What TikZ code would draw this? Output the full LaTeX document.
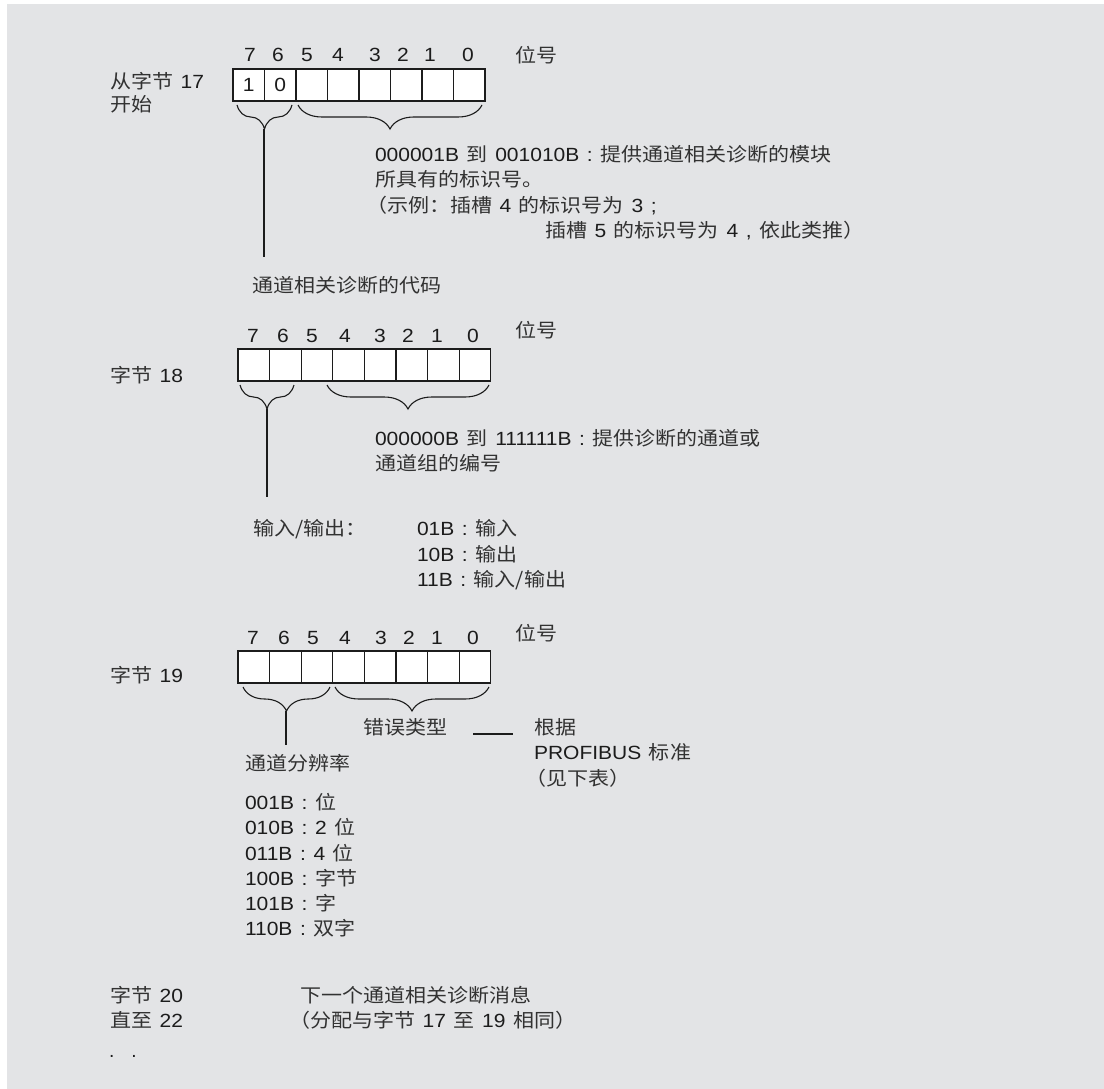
\documentclass[tikz,border=0pt]{standalone}
\usepackage{graphicx}
\usepackage{fontspec}
\setmainfont{Liberation Sans}[WordSpace=1.3]
\newfontfamily\cjk{Noto Sans CJK SC}
\definecolor{cjkink}{RGB}{50,50,50}
\newcommand\zh[1]{{\cjk\color{cjkink}#1}}
\newcommand\wx[1]{\scalebox{1.1}[1]{#1}}
\usetikzlibrary{decorations.pathreplacing}
\definecolor{bg}{RGB}{227,228,230}
\definecolor{ink}{RGB}{28,28,28}
\tikzset{
  txt/.style={anchor=base west, inner sep=0pt, outer sep=0pt, text=ink},
  bit/.style={anchor=base, inner sep=0pt, outer sep=0pt, text=ink},
  cell/.style={draw=ink, line width=1.3pt, fill=white, minimum height=32pt, inner sep=0pt, outer sep=0pt, text=ink},
  brc/.style={draw=ink, line width=1.1pt, decorate, decoration={brace, mirror, amplitude=24pt}},
  lead/.style={draw=ink, line width=1.3pt},
}
\begin{document}
\begin{tikzpicture}[x=1pt, y=-1pt, font=\fontsize{19.1}{25}\selectfont]
\useasboundingbox (0,0) rectangle (1104,1089);
\fill[bg] (7,4) rectangle (1104,1089);

% ---------- Byte 17 ----------
\foreach \d/\x in {7/250,6/278,5/307,4/338,3/375,2/403,1/430,0/468}
  \node[bit] (t17\d) at (\x,62) {\wx{\d}};
\node[txt] (u17) at (515,63) {\wx{\zh{位号}}};
\node[txt] (l17a) at (110,89) {\wx{\zh{从字节} 17}};
\node[txt] (l17b) at (110,112) {\wx{\zh{开始}}};
\foreach \i/\t in {0/1,1/0,2/,3/,4/,5/,6/,7/}
  \node[cell, minimum width=31.5pt] (b17c\i) at ({233+15.75+31.5*\i},85) {\wx{\t}};
\coordinate (b17a1) at (237,105); \coordinate (b17a2) at (292,105);
\coordinate (b17b1) at (298,105); \coordinate (b17b2) at (482,105);
\draw[brc] (b17a1) -- (b17a2);
\draw[brc] (b17b1) -- (b17b2);
\coordinate (b17tip) at (264,129);
\node[txt] (c17) at (252,292) {\wx{\zh{通道相关诊断的代码}}};
\coordinate (b17end) at (264,257);
\draw[lead] (b17tip) -- (b17end);
\node[txt] (d17a) at (375,162) {\wx{000001B \zh{到} 001010B : \zh{提供通道相关诊断的模块}}};
\node[txt] (d17b) at (375,187) {\wx{\zh{所具有的标识号。}}};
\node[txt] (d17c) at (366,212) {\wx{\zh{（示例：插槽} 4 \zh{的标识号为} 3 ;}};
\node[txt] (d17d) at (545,237) {\wx{\zh{插槽} 5 \zh{的标识号为} 4 , \zh{依此类推）}}};

% ---------- Byte 18 ----------
\foreach \d/\x in {7/253,6/283,5/312,4/345,3/380,2/408,1/437,0/473}
  \node[bit] (t18\d) at (\x,342) {\wx{\d}};
\node[txt] (u18) at (515,337) {\wx{\zh{位号}}};
\node[txt] (l18) at (110,382) {\wx{\zh{字节} 18}};
\foreach \i in {0,...,7}
  \node[cell, minimum width=31.6pt] (b18c\i) at ({238+15.8+31.6*\i},365) {};
\coordinate (b18a1) at (240,385); \coordinate (b18a2) at (294,385);
\coordinate (b18b1) at (327,385); \coordinate (b18b2) at (489,385);
\draw[brc] (b18a1) -- (b18a2);
\draw[brc] (b18b1) -- (b18b2);
\coordinate (b18tip) at (267,409);
\coordinate (b18end) at (267,497);
\draw[lead] (b18tip) -- (b18end);
\node[txt] (d18a) at (375,445) {\wx{000000B \zh{到} 111111B : \zh{提供诊断的通道或}}};
\node[txt] (d18b) at (375,470) {\wx{\zh{通道组的编号}}};
\node[txt] (io) at (253,535) {\wx{\zh{输入/输出：}}};
\node[txt] (io1) at (417,535) {\wx{01B : \zh{输入}}};
\node[txt] (io2) at (417,561) {\wx{10B : \zh{输出}}};
\node[txt] (io3) at (417,586) {\wx{11B : \zh{输入/输出}}};

% ---------- Byte 19 ----------
\foreach \d/\x in {7/253,6/284,5/313,4/345,3/381,2/409,1/437,0/473}
  \node[bit] (t19\d) at (\x,644) {\wx{\d}};
\node[txt] (u19) at (515,640) {\wx{\zh{位号}}};
\node[txt] (l19) at (110,682) {\wx{\zh{字节} 19}};
\foreach \i in {0,...,7}
  \node[cell, minimum width=31.6pt] (b19c\i) at ({238+15.8+31.6*\i},667) {};
\coordinate (b19a1) at (243,687); \coordinate (b19a2) at (330,687);
\coordinate (b19b1) at (335,687); \coordinate (b19b2) at (489,687);
\draw[brc] (b19a1) -- (b19a2);
\draw[brc] (b19b1) -- (b19b2);
\coordinate (b19tip) at (286,711);
\coordinate (b19end) at (286,745);
\draw[lead] (b19tip) -- (b19end);
\node[txt] (err) at (363,734) {\wx{\zh{错误类型}}};
\coordinate (dashA) at (473,734); \coordinate (dashB) at (513,734);
\draw[lead] (dashA) -- (dashB);
\node[txt] (pb1) at (534,734) {\wx{\zh{根据}}};
\node[txt] (pb2) at (534,759) {\wx{PROFIBUS \zh{标准}}};
\node[txt] (pb3) at (525,785) {\wx{\zh{（见下表）}}};
\node[txt] (res) at (245,770) {\wx{\zh{通道分辨率}}};
\node[txt] (r1) at (245,809) {\wx{001B : \zh{位}}};
\node[txt] (r2) at (245,834) {\wx{010B : 2 \zh{位}}};
\node[txt] (r3) at (245,860) {\wx{011B : 4 \zh{位}}};
\node[txt] (r4) at (245,885) {\wx{100B : \zh{字节}}};
\node[txt] (r5) at (245,910) {\wx{101B : \zh{字}}};
\node[txt] (r6) at (245,935) {\wx{110B : \zh{双字}}};

% ---------- Bytes 20-22 ----------
\node[txt] (n1) at (110,1002) {\wx{\zh{字节} 20}};
\node[txt] (n2) at (110,1027) {\wx{\zh{直至} 22}};
\node[txt] (dots) at (109,1057) {.\hspace{17pt}.};
\node[txt] (m1) at (300,1002) {\wx{\zh{下一个通道相关诊断消息}}};
\node[txt] (m2) at (289,1027) {\wx{\zh{（分配与字节} 17 \zh{至} 19 \zh{相同）}}};
\end{tikzpicture}
\end{document}
